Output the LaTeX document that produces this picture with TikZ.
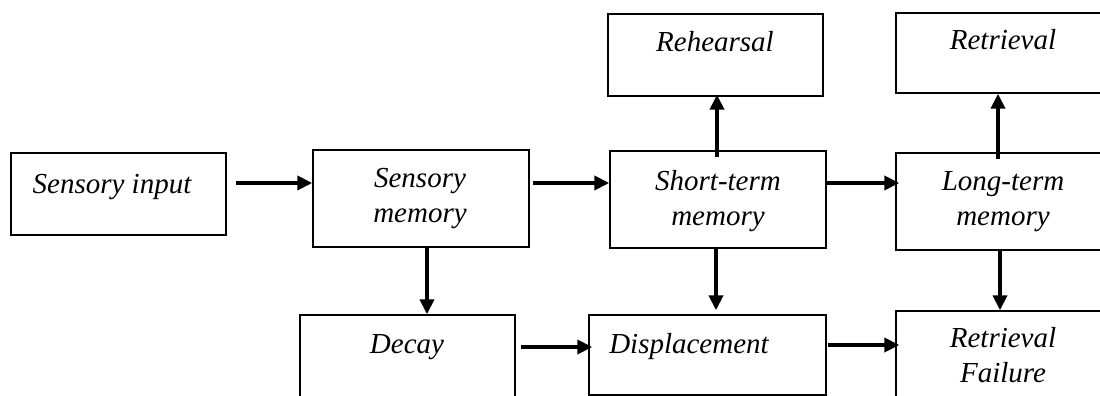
\documentclass[tikz,border=0pt]{standalone}
\usepackage{fontspec}
\setmainfont{Liberation Serif}
\usetikzlibrary{arrows.meta,positioning,calc}
\tikzset{
  box/.style={draw=black, line width=1.4pt, fill=white, inner sep=0pt, rectangle},
  txt/.style={font=\fontsize{29}{35}\selectfont\itshape, align=center, inner sep=0pt, anchor=base},
  arr/.style={line width=4pt, -{Triangle[length=15pt,width=14pt]}}
}
\begin{document}
\begin{tikzpicture}[x=1pt,y=-1pt]
\useasboundingbox (0,0) rectangle (1100,396);
\fill[white] (0,0) rectangle (1100,396);
\clip (0,0) rectangle (1100,396);

% stage boxes (some run past the page edge)
\node[box, minimum width=215pt, minimum height=82pt] (in)    at (118.5,194) {};
\node[box, minimum width=216pt, minimum height=97pt] (sm)    at (421,198.5) {};
\node[box, minimum width=216pt, minimum height=97pt] (stm)   at (718,199.5) {};
\node[box, minimum width=215pt, minimum height=82pt] (reh)   at (715.5,55) {};
\node[box, minimum width=220pt, minimum height=80pt] (ret)   at (1006,53) {};
\node[box, minimum width=220pt, minimum height=97pt] (ltm)   at (1006,201.5) {};
\node[box, minimum width=215pt, minimum height=100pt] (decay) at (407.5,365) {};
\node[box, minimum width=237pt, minimum height=80pt] (disp)  at (707.5,355) {};
\node[box, minimum width=220pt, minimum height=100pt] (rf)    at (1006,361) {};

% labels (base anchor sits on the last line)
\node[txt] (t-in)    at (112,193) {Sensory input};
\node[txt] (t-sm)    at (420,222) {Sensory\\memory};
\node[txt] (t-stm)   at (718,225) {Short-term\\memory};
\node[txt] (t-reh)   at (715,52)  {Rehearsal};
\node[txt] (t-ret)   at (1003,50) {Retrieval};
\node[txt] (t-ltm)   at (1003,225) {Long-term\\memory};
\node[txt] (t-decay) at (407,353) {Decay};
\node[txt] (t-disp)  at (689,353) {Displacement};
\node[txt] (t-rf)    at (1003,382) {Retrieval\\Failure};

% horizontal flow
\draw[arr] ([xshift=9pt,yshift=11pt]in.east) -- ([yshift=11pt]in.east -| sm.west);
\draw[arr] ([xshift=3pt,yshift=15.5pt]sm.east) -- ([yshift=15.5pt]sm.east -| stm.west);
\draw[arr] ([yshift=16.5pt]stm.east) -- ([xshift=4pt,yshift=16.5pt]stm.east -| ltm.west);
\draw[arr] ([xshift=5pt,yshift=8pt]decay.east |- disp.west) -- ([xshift=4pt,yshift=8pt]disp.west);
\draw[arr] ([xshift=1pt,yshift=10pt]disp.east) -- ([xshift=4pt,yshift=10pt]disp.east -| rf.west);

% vertical flow
\draw[arr] ([xshift=6pt]sm.south) -- ([xshift=6pt]sm.south |- decay.north);
\draw[arr] ([xshift=-2pt]stm.south) -- ([xshift=-2pt,yshift=4pt]stm.south |- disp.north);
\draw[arr] ([xshift=-6pt]ltm.south) -- ([xshift=-6pt]ltm.south |- rf.north);
\draw[arr] ([xshift=-1pt,yshift=-7pt]stm.north) -- ([xshift=-1pt,yshift=2pt]stm.north |- reh.south);
\draw[arr] ([xshift=-8pt,yshift=-7pt]ltm.north) -- ([xshift=-8pt]ltm.north |- ret.south);
\end{tikzpicture}
\end{document}
